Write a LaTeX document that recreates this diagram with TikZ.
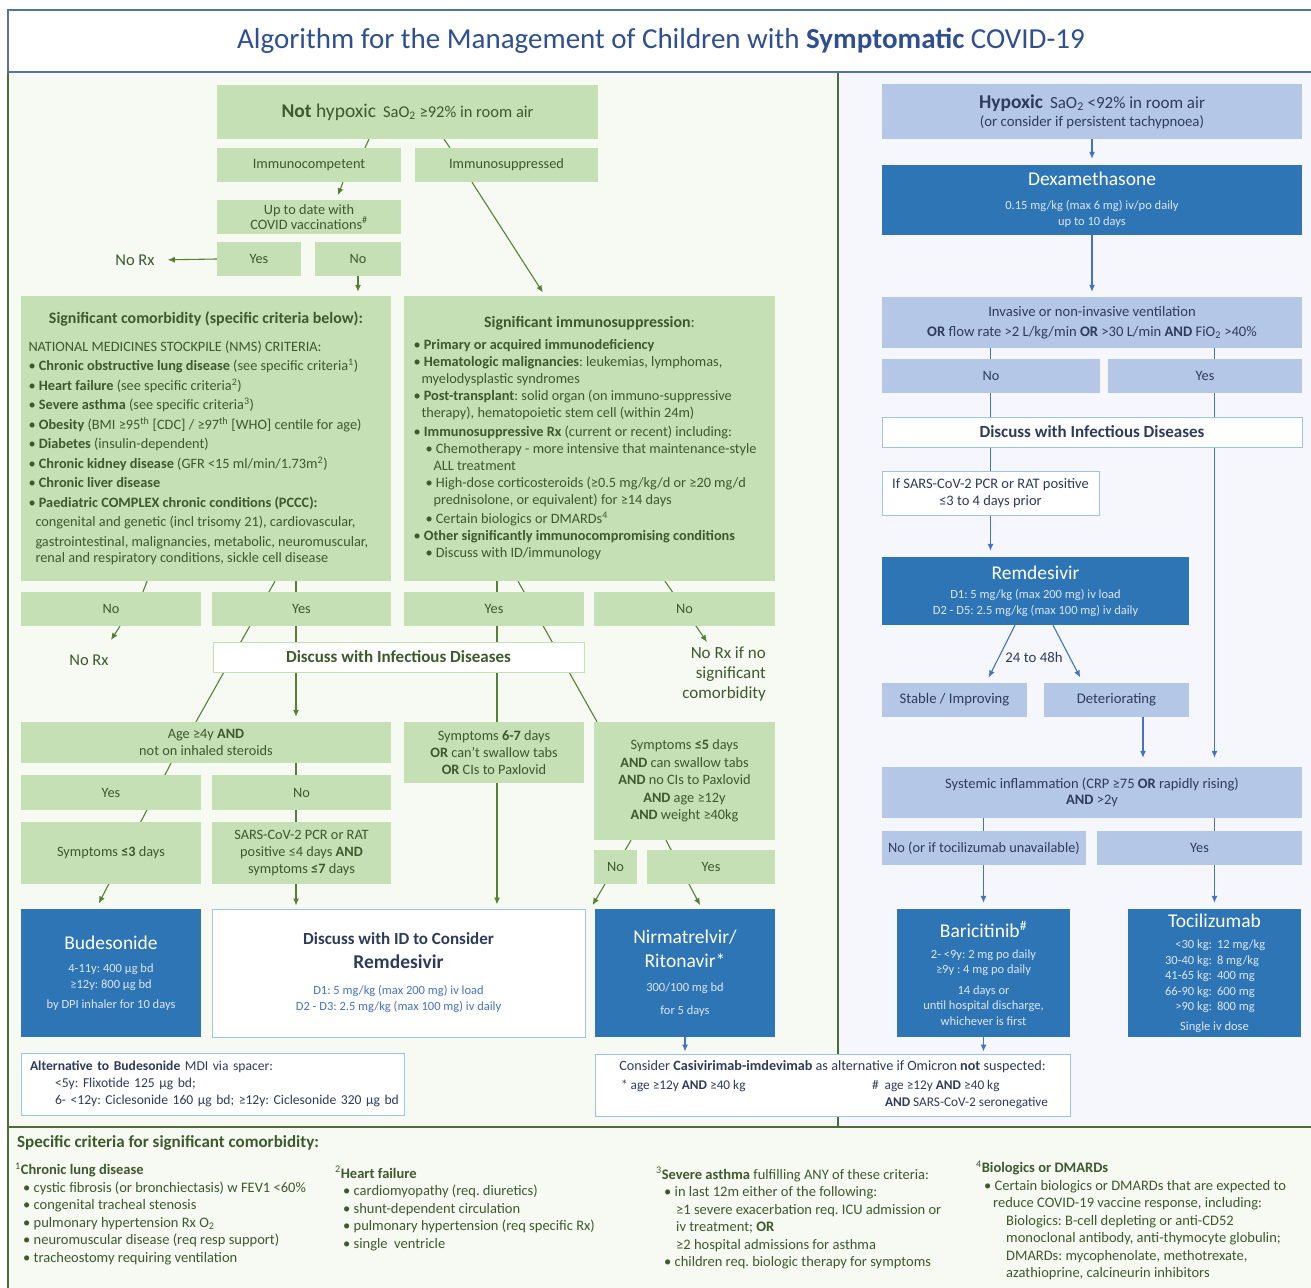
\documentclass[tikz,border=0pt]{standalone}
\usepackage{fontspec}
\setmainfont{Carlito}
\usetikzlibrary{arrows.meta,positioning,backgrounds}
\pgfdeclarelayer{panels}
\pgfsetlayers{panels,background,main}
\definecolor{cgfill}{HTML}{C5E0B4}
\definecolor{cgtext}{HTML}{3D5A2C}
\definecolor{cgline}{HTML}{548235}
\definecolor{cgframe}{HTML}{4F6B3A}
\definecolor{cgpanel}{HTML}{F7F9F3}
\definecolor{cbfill}{HTML}{B4C7E7}
\definecolor{cbdark}{HTML}{2E75B6}
\definecolor{cbtext}{HTML}{2F3B5C}
\definecolor{cbline}{HTML}{4472C4}
\definecolor{cbpanel}{HTML}{F5F7FC}
\definecolor{cbframe}{HTML}{9DC3E6}
\definecolor{ctitle}{HTML}{2F4F94}
\definecolor{cdose}{HTML}{DCE6F4}
\newcommand{\drugfont}{\fontsize{19.5}{22}\selectfont}
\newcommand{\dosefont}{\fontsize{12.5}{15.5}\selectfont}
\newcommand{\headfont}{\fontsize{17}{20}\selectfont}
\newcommand{\bodyfont}{\fontsize{14.3}{17}\selectfont}
\newcommand{\notefont}{\fontsize{13.3}{15}\selectfont}

\begin{document}
\frenchspacing
\begin{tikzpicture}[
  x=1pt, y=-1pt,
  font=\bodyfont,
  gbox/.style={fill=cgfill, text=cgtext, align=center, inner sep=1pt},
  gwbox/.style={fill=white, draw=cgfill, line width=1pt, text=cgtext, align=center, inner sep=1pt},
  bbox/.style={fill=cbfill, text=cbtext, align=center, inner sep=1pt},
  dbox/.style={fill=cbdark, text=white, align=center, inner sep=1pt, font=\dosefont},
  wbox/.style={fill=white, draw=cbframe, line width=1pt, text=cbtext, align=center, inner sep=1pt},
  plain/.style={text=cgtext, inner sep=1pt},
  glink/.style={cgline, line width=1.1pt},
  garr/.style={glink, -{Latex[length=7pt,width=6pt]}},
  blink/.style={cbline, line width=1.1pt},
  barr/.style={blink, -{Latex[length=7pt,width=6pt]}},
]
\useasboundingbox (0,0) rectangle (1311,1287);
% ---------- panels ----------
\begin{pgfonlayer}{panels}
\fill[white] (0,0) rectangle (1311,1287);
\fill[cgpanel] (8,72) rectangle (838,1127);
\fill[cbpanel] (838,72) rectangle (1315,1127);
\fill[cgpanel] (8,1127) rectangle (1315,1292);
\draw[cgframe, line width=1.3pt] (8,1292) -- (8,72) -- (1315,72);
\draw[cgframe, line width=1.3pt] (838,72) -- (838,1127);
\draw[cgframe, line width=1.3pt] (8,1127) -- (1315,1127);
\draw[ctitle!80, line width=1.3pt, fill=white] (8,10) rectangle (1315,72);
\end{pgfonlayer}
\node[font=\fontsize{29}{32}\selectfont, text=ctitle] (title) at (661,41) {Algorithm for the Management of Children with \textbf{Symptomatic} COVID-19};

% ---------- not hypoxic ----------
\node[gbox, minimum width=381, minimum height=54] (nothyp) at (407.5,112) {{\fontsize{19.5}{22}\selectfont\textbf{Not} hypoxic}\hspace{7pt}{\fontsize{16.5}{19}\selectfont SaO\textsubscript{2} ≥92\% in room air}};
\node[gbox, minimum width=184, minimum height=34] (immcomp) at (309,165) {Immunocompetent};
\node[gbox, minimum width=183, minimum height=34] (immsupp) at (506.5,165) {Immunosuppressed};
\node[gbox, minimum width=184, minimum height=34, font=\fontsize{14.3}{14.5}\selectfont] (uptodate) at (309,217) {Up to date with\\COVID vaccinations\textsuperscript{\#}};
\node[gbox, minimum width=84, minimum height=34] (yes1) at (259,259) {Yes};
\node[gbox, minimum width=86, minimum height=34] (no1) at (358,259) {No};
\node[plain, font=\fontsize{16.5}{19}\selectfont] (norx1) at (135,260) {No Rx};

\node[gbox, minimum width=370, minimum height=285, align=left, font=\fontsize{14.3}{19.5}\selectfont] (comorb) at (206,438.5) {%
\makebox[355pt]{\fontsize{15.9}{18}\selectfont\textbf{Significant comorbidity (specific criteria below):}}\\[8pt]
NATIONAL MEDICINES STOCKPILE (NMS) CRITERIA:\\
• \textbf{Chronic obstructive lung disease} (see specific criteria\textsuperscript{1})\\
• \textbf{Heart failure} (see specific criteria\textsuperscript{2})\\
• \textbf{Severe asthma} (see specific criteria\textsuperscript{3})\\
• \textbf{Obesity} (BMI ≥95\textsuperscript{th} [CDC] / ≥97\textsuperscript{th} [WHO] centile for age)\\
• \textbf{Diabetes} (insulin-dependent)\\
• \textbf{Chronic kidney disease} (GFR <15 ml/min/1.73m\textsuperscript{2})\\
• \textbf{Chronic liver disease}\\
• \textbf{Paediatric COMPLEX chronic conditions (PCCC):}\\
\hspace*{7pt}congenital and genetic (incl trisomy 21), cardiovascular,\\
\hspace*{7pt}gastrointestinal, malignancies, metabolic, neuromuscular,\\[-3pt]
\hspace*{7pt}renal and respiratory conditions, sickle cell disease};

\node[gbox, minimum width=371, minimum height=285, align=left, font=\fontsize{14.3}{17}\selectfont] (immbox) at (589.5,438.5) {%
\makebox[352pt]{\fontsize{15.9}{18}\selectfont\textbf{Significant immunosuppression}:}\\[5pt]
• \textbf{Primary or acquired immunodeficiency}\\
• \textbf{Hematologic malignancies}: leukemias, lymphomas,\\
\hspace*{8pt}myelodysplastic syndromes\\
• \textbf{Post-transplant}: solid organ (on immuno-suppressive\\
\hspace*{8pt}therapy), hematopoietic stem cell (within 24m)\\[2pt]
• \textbf{Immunosuppressive Rx} (current or recent) including:\\
\hspace*{12pt}• Chemotherapy - more intensive that maintenance-style\\
\hspace*{20pt}ALL treatment\\
\hspace*{12pt}• High-dose corticosteroids (≥0.5 mg/kg/d or ≥20 mg/d\\
\hspace*{20pt}prednisolone, or equivalent) for ≥14 days\\[2pt]
\hspace*{12pt}• Certain biologics or DMARDs\textsuperscript{4}\\
• \textbf{Other significantly immunocompromising conditions}\\
\hspace*{12pt}• Discuss with ID/immunology};

\node[gbox, minimum width=180, minimum height=34] (no2) at (111,609) {No};
\node[gbox, minimum width=179, minimum height=34] (yes2) at (301.5,609) {Yes};
\node[gbox, minimum width=180, minimum height=34] (yes3) at (494,609) {Yes};
\node[gbox, minimum width=181, minimum height=34] (no3) at (684.5,609) {No};
\node[plain, font=\fontsize{16.5}{19}\selectfont] (norx2) at (89,660) {No Rx};
\node[gwbox, minimum width=371, minimum height=30, font=\headfont] (disc1) at (398.5,657) {\textbf{Discuss with Infectious Diseases}};
\node[plain, align=right, anchor=north east, font=\fontsize{17}{20}\selectfont] (norx3) at (767,646) {No Rx if no\\significant\\comorbidity};
\coordinate (norx2tip) at (111,640);
\coordinate (norx3tip) at (707,642);

\node[gbox, minimum width=370, minimum height=41] (age) at (206,742.5) {Age ≥4y \textbf{AND}\\not on inhaled steroids};
\node[gbox, minimum width=180, minimum height=61] (sym67) at (494,752.5) {Symptoms \textbf{6-7} days\\\textbf{OR} can’t swallow tabs\\\textbf{OR} CIs to Paxlovid};
\node[gbox, minimum width=181, minimum height=118, font=\fontsize{14.3}{17.5}\selectfont] (sym5) at (684.5,781) {Symptoms \textbf{≤5} days\\\textbf{AND} can swallow tabs\\\textbf{AND} no CIs to Paxlovid\\\textbf{AND} age ≥12y\\\textbf{AND} weight ≥40kg};
\node[gbox, minimum width=180, minimum height=35] (yes4) at (111,792.5) {Yes};
\node[gbox, minimum width=179, minimum height=35] (no4) at (301.5,792.5) {No};
\node[gbox, minimum width=180, minimum height=62] (sym3) at (111,853) {Symptoms \textbf{≤3} days};
\node[gbox, minimum width=179, minimum height=62] (sars) at (301.5,853) {SARS-CoV-2 PCR or RAT\\positive ≤4 days \textbf{AND}\\symptoms \textbf{≤7} days};
\node[gbox, minimum width=43, minimum height=34] (no5) at (615.5,867) {No};
\node[gbox, minimum width=128, minimum height=34] (yes5) at (711,867) {Yes};

% ---------- treatments ----------
\node[dbox, minimum width=180, minimum height=128] (bud) at (111,973) {{\drugfont Budesonide}\\[8pt]\textcolor{cdose}{4-11y: 400 µg bd}\\\textcolor{cdose}{≥12y: 800 µg bd}\\[5pt]\textcolor{cdose}{by DPI inhaler for 10 days}};
\node[wbox, minimum width=373, minimum height=128] (remid) at (398.5,973) {{\headfont\textbf{Discuss with ID to Consider}}\\[7pt]{\drugfont\textbf{Remdesivir}}\\[9pt]{\dosefont\textcolor{cbline}{D1: 5 mg/kg (max 200 mg) iv load}}\\[-1pt]{\dosefont\textcolor{cbline}{D2 - D3: 2.5 mg/kg (max 100 mg) iv daily}}};
\node[dbox, minimum width=180, minimum height=128] (nirm) at (685,973) {{\drugfont Nirmatrelvir/}\\[8pt]{\drugfont Ritonavir*}\\[9pt]\textcolor{cdose}{300/100 mg bd}\\[7pt]\textcolor{cdose}{for 5 days}};
\node[wbox, minimum width=383, minimum height=62, align=left, text width=377, font=\fontsize{13.6}{17}\selectfont] (alt) at (212.5,1084) {\hspace*{6pt}\textbf{Alternative to Budesonide} MDI via spacer:\\
\hspace*{31pt}<5y: Flixotide 125 µg bd;\\
\hspace*{31pt}6- <12y: Ciclesonide 160 µg bd; ≥12y: Ciclesonide 320 µg bd};
\node[wbox, minimum width=475, minimum height=62, align=left, font=\fontsize{14.2}{19}\selectfont] (casi) at (832.5,1085) {\makebox[455pt]{Consider \textbf{Casivirimab-imdevimab} as alternative if Omicron \textbf{not} suspected:}\\
{\notefont\makebox[267pt][l]{\hspace*{16pt}* age ≥12y \textbf{AND} ≥40 kg}\#\ \ age ≥12y \textbf{AND} ≥40 kg}\\[-2pt]
{\notefont\hspace*{280pt}\textbf{AND} SARS-CoV-2 seronegative}};
\node[dbox, minimum width=173, minimum height=128] (bari) at (983.5,973) {{\drugfont Baricitinib\textsuperscript{\#}}\\[5pt]\textcolor{cdose}{2- <9y: 2 mg po daily}\\\textcolor{cdose}{≥9y : 4 mg po daily}\\[5pt]\textcolor{cdose}{14 days or}\\\textcolor{cdose}{until hospital discharge,}\\\textcolor{cdose}{whichever is first}};
\node[dbox, minimum width=173, minimum height=128, font=\fontsize{12.5}{15.5}\selectfont] (toci) at (1214.5,973) {{\drugfont Tocilizumab}\\[6pt]
\textcolor{cdose}{\makebox[50pt][r]{<30 kg:}\hspace{5pt}\makebox[50pt][l]{12 mg/kg}}\\
\textcolor{cdose}{\makebox[50pt][r]{30-40 kg:}\hspace{5pt}\makebox[50pt][l]{8 mg/kg}}\\
\textcolor{cdose}{\makebox[50pt][r]{41-65 kg:}\hspace{5pt}\makebox[50pt][l]{400 mg}}\\
\textcolor{cdose}{\makebox[50pt][r]{66-90 kg:}\hspace{5pt}\makebox[50pt][l]{600 mg}}\\
\textcolor{cdose}{\makebox[50pt][r]{>90 kg:}\hspace{5pt}\makebox[50pt][l]{800 mg}}\\[4pt]
\textcolor{cdose}{Single iv dose}};

% ---------- hypoxic ----------
\node[bbox, minimum width=420, minimum height=55, font=\fontsize{14.8}{18}\selectfont] (hyp) at (1092,111.5) {{\fontsize{19.5}{22}\selectfont\textbf{Hypoxic}}\hspace{7pt}{\fontsize{17}{19}\selectfont SaO\textsubscript{2} <92\% in room air}\\(or consider if persistent tachypnoea)};
\node[dbox, minimum width=420, minimum height=70] (dexa) at (1092,200) {{\drugfont Dexamethasone}\\[8pt]\textcolor{cdose}{0.15 mg/kg (max 6 mg) iv/po daily}\\[1pt]\textcolor{cdose}{up to 10 days}};
\node[bbox, minimum width=420, minimum height=51, font=\fontsize{14.6}{20}\selectfont] (vent) at (1092,322.5) {Invasive or non-invasive ventilation\\\textbf{OR} flow rate >2 L/kg/min \textbf{OR} >30 L/min \textbf{AND} FiO\textsubscript{2} >40\%};
\node[bbox, minimum width=218, minimum height=34] (no6) at (991,376) {No};
\node[bbox, minimum width=194, minimum height=34] (yes6) at (1205,376) {Yes};
\node[wbox, minimum width=420, minimum height=30, font=\headfont] (disc2) at (1092,432) {\textbf{Discuss with Infectious Diseases}};
\node[wbox, minimum width=217, minimum height=44, font=\fontsize{14.5}{17}\selectfont] (ifsars) at (990.5,493) {If SARS-CoV-2 PCR or RAT positive\\≤3 to 4 days prior};
\node[dbox, minimum width=307, minimum height=68] (remd) at (1035.5,591) {{\drugfont Remdesivir}\\[4pt]\textcolor{cdose}{D1: 5 mg/kg (max 200 mg) iv load}\\\textcolor{cdose}{D2 - D5: 2.5 mg/kg (max 100 mg) iv daily}};
\node[bbox, minimum width=145, minimum height=34, font=\fontsize{14.7}{17}\selectfont] (stable) at (954.5,700) {Stable / Improving};
\node[bbox, minimum width=145, minimum height=34, font=\fontsize{14.7}{17}\selectfont] (deter) at (1116.5,700) {Deteriorating};
\node[text=cbtext, font=\fontsize{14.8}{17}\selectfont] (lbl) at (1034,657) {24 to 48h};
\node[bbox, minimum width=420, minimum height=51, font=\fontsize{14.5}{15.5}\selectfont] (syst) at (1092,792.5) {Systemic inflammation (CRP ≥75 \textbf{OR} rapidly rising)\\\textbf{AND} >2y};
\node[bbox, minimum width=204, minimum height=34] (no7) at (984,848) {No (or if tocilizumab unavailable)};
\node[bbox, minimum width=205, minimum height=34] (yes7) at (1199.5,848) {Yes};

% ---------- connectors ----------
\begin{scope}[on background layer]
\draw[glink] ([xshift=-38.5pt]nothyp.south) -- ([xshift=56pt]immcomp.north);
\draw[glink] ([xshift=36.5pt]nothyp.south) -- ([xshift=-56.5pt]immsupp.north);
\draw[garr, shorten >=5pt] ([xshift=34pt]immcomp.south) -- ([xshift=27pt]uptodate.north);
\draw[garr, shorten >=12pt] (yes1.west) -- (norx1.east);
\draw[garr, shorten >=4pt] (no1) -- (no1 |- comorb.north);
\draw[garr, shorten >=4pt] ([xshift=-34.5pt]immsupp.south) -- ([xshift=-44.5pt]immbox.north);
\draw[glink] ([xshift=-59pt]comorb.south) -- ([xshift=32pt]no2.north);
\draw[glink] ([xshift=69pt]comorb.south) -- ([xshift=-10pt]age.north);
\draw[garr, shorten >=5pt] ([xshift=90pt]comorb.south) -- ([xshift=90pt]age.north);
\draw[garr, shorten >=3pt] ([xshift=90pt]age.south) -- ([xshift=-102.5pt]remid.north);
\draw[garr, shorten >=6pt] ([xshift=-35pt]age.south) -- ([xshift=-15pt]bud.north);
\draw[garr] ([xshift=9pt]no2.south) -- (norx2tip);
\draw[garr, shorten >=4pt] ([xshift=-92.5pt]immbox.south) -- ([xshift=98.5pt]remid.north);
\draw[glink] ([xshift=-71.5pt]immbox.south) -- ([xshift=-87.5pt]sym5.north);
\draw[garr] ([xshift=75.5pt]immbox.south) -- (norx3tip);
\draw[garr, shorten >=4pt] ([xshift=-53.5pt]sym5.south) -- ([xshift=5pt]remid.north east);
\draw[garr, shorten >=4pt] ([xshift=-18.5pt]sym5.south) -- ([xshift=17pt]nirm.north);
\draw[barr, shorten >=2pt] (nirm) -- (nirm.south |- casi.north);
\draw[barr, shorten >=2pt] (bari) -- (bari.south |- casi.north);
% hypoxic side
\draw[barr, shorten >=6pt] (hyp) -- (dexa);
\draw[barr, shorten >=5pt] (dexa) -- (vent);
\draw[blink] (vent.south -| ifsars) -- (ifsars.north);
\draw[barr, shorten >=9pt] (vent.south -| toci) -- (syst.north -| toci);
\draw[barr, shorten >=6pt] (ifsars) -- (ifsars.south |- remd.north);
\draw[barr, shorten >=6pt] ([xshift=-20.5pt]remd.south) -- ([xshift=31.5pt]stable.north);
\draw[barr, shorten >=6pt] ([xshift=17.5pt]remd.south) -- ([xshift=-33.5pt]deter.north);
\coordinate (dtip) at ([xshift=26.5pt]deter.south);
\draw[barr, shorten >=9pt] (dtip) -- (dtip |- syst.north);
\draw[barr, shorten >=6pt] (syst.south -| bari) -- (bari.north);
\draw[barr, shorten >=6pt] (syst.south -| toci) -- (toci.north);
\end{scope}

% ---------- specific criteria ----------
\node[plain, anchor=west, font=\fontsize{17}{20}\selectfont] (crit) at (16,1143) {\textbf{Specific criteria for significant comorbidity:}};
\node[plain, anchor=north west, align=left, font=\fontsize{14.5}{17.5}\selectfont] (lung) at (14,1162) {\textsuperscript{1}\textbf{Chronic lung disease}\\
\hspace*{8pt}• cystic fibrosis (or bronchiectasis) w FEV1 <60\%\\
\hspace*{8pt}• congenital tracheal stenosis\\
\hspace*{8pt}• pulmonary hypertension Rx O\textsubscript{2}\\
\hspace*{8pt}• neuromuscular disease (req resp support)\\
\hspace*{8pt}• tracheostomy requiring ventilation};
\node[plain, anchor=north west, align=left, font=\fontsize{14.5}{17.5}\selectfont] (heart) at (334,1165) {\textsuperscript{2}\textbf{Heart failure}\\
\hspace*{8pt}• cardiomyopathy (req. diuretics)\\
\hspace*{8pt}• shunt-dependent circulation\\
\hspace*{8pt}• pulmonary hypertension (req specific Rx)\\
\hspace*{8pt}• single\ \ ventricle};
\node[plain, anchor=north west, align=left, font=\fontsize{14.5}{17.5}\selectfont] (asthma) at (655,1166) {\textsuperscript{3}\textbf{Severe asthma} fulfilling ANY of these criteria:\\
\hspace*{8pt}• in last 12m either of the following:\\
\hspace*{20pt}≥1 severe exacerbation req. ICU admission or\\
\hspace*{20pt}iv treatment; \textbf{OR}\\
\hspace*{20pt}≥2 hospital admissions for asthma\\
\hspace*{8pt}• children req. biologic therapy for symptoms};
\node[plain, anchor=north west, align=left, font=\fontsize{14.5}{17.5}\selectfont] (dmard) at (975,1160) {\textsuperscript{4}\textbf{Biologics or DMARDs}\\
\hspace*{8pt}• Certain biologics or DMARDs that are expected to\\
\hspace*{17pt}reduce COVID-19 vaccine response, including:\\
\hspace*{30pt}Biologics: B-cell depleting or anti-CD52\\
\hspace*{30pt}monoclonal antibody, anti-thymocyte globulin;\\
\hspace*{30pt}DMARDs: mycophenolate, methotrexate,\\
\hspace*{30pt}azathioprine, calcineurin inhibitors};
\end{tikzpicture}
\end{document}
